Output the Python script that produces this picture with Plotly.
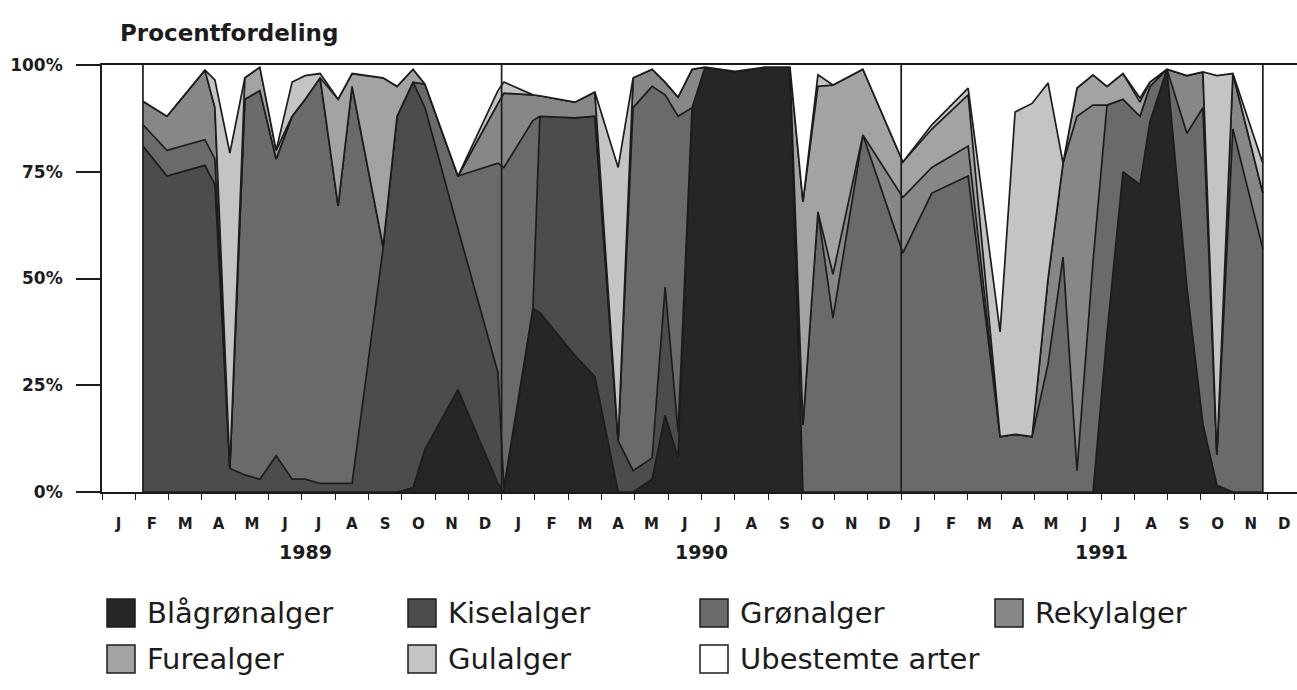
import plotly.graph_objects as go

# ---------------- data ----------------
# sample position in months since 1 Jan 1989
sample_month = [1.23, 1.95, 3.09, 3.39, 3.84, 4.29, 4.74, 5.23, 5.71, 6.10,
                6.55, 7.09, 7.51, 8.44, 8.86, 9.34, 9.70, 10.69, 11.89, 12.07,
                12.94, 13.15, 14.20, 14.80, 15.50, 15.95, 16.52, 16.91, 17.30, 17.72,
                18.11, 19.01, 19.91, 20.66, 21.05, 21.50, 21.95, 22.85, 24.05, 24.92,
                26.01, 26.97, 27.42, 27.93, 28.41, 28.86, 29.28, 29.76, 30.18, 30.66,
                31.17, 31.47, 31.98, 32.58, 33.06, 33.48, 33.96, 34.86]

blaagroenalger = [0, 0, 0, 0, 0, 0, 0, 0, 0, 0,
                  0, 0, 0, 0, 0, 1, 10, 24, 2, 0,
                  43, 42, 32, 27, 0, 0, 3, 18, 8, 90,
                  99.5, 98.5, 99.5, 99.5, 0, 0, 0, 0, 0, 0,
                  0, 0, 0, 0, 0, 0, 0, 0, 37, 75,
                  72, 86.7, 99, 48, 16, 1.6, 0, 0]
kiselalger = [81, 74, 76.5, 72, 5.5, 4, 3, 8.5, 3, 3,
              2, 2, 2, 57, 88, 95, 80, 37.6, 26, 1,
              0, 46, 55.6, 61, 12, 5, 5, 30, 6, 0,
              0, 0, 0, 0, 0, 0, 0, 0, 0, 0,
              0, 0, 0, 0, 0, 0, 0, 0, 0, 0,
              0, 0, 0, 0, 0, 0, 0, 0]
groenalger = [5, 6, 6, 6, 0, 88, 91, 69.5, 85, 89,
              95, 65, 93, 0.5, 0, 0, 5.5, 12.4, 49, 75,
              44, 0, 0, 0, 0, 85, 87, 45, 74, 0,
              0, 0, 0, 0, 15.7, 65.6, 40.7, 83.6, 56, 70,
              74, 13, 13.5, 13, 30, 55, 5, 54, 53.6, 17,
              16, 8.3, 0, 36, 74, 7.1, 85, 57]
rekylalger = [5.5, 8, 16.3, 12, 0, 0, 0, 0, 0, 0,
              0, 0, 0, 0, 0, 0, 0, 0, 14, 17.4,
              6, 4.8, 3.7, 5.7, 0, 7, 4, 3, 4.5, 9,
              0, 0, 0, 0, 0, 0, 10.3, 0, 13, 6,
              7, 0, 0, 0, 20, 22, 83, 36.6, 0, 0,
              0, 0, 0, 13.5, 8.4, 0, 13, 13]
furealger = [0, 0, 0, 0, 0, 5, 5.5, 2, 0, 0,
             0, 25, 3, 39.5, 7, 3, 0, 0, 0, 0,
             0, 0, 0, 0, 0, 0, 0, 0, 0, 0,
             0, 0, 0, 0, 52.3, 29.4, 44.3, 15.4, 8.3, 9,
             12, 0, 0, 0, 0, 0, 6.6, 7.1, 4.4, 6,
             3.3, 1, 0, 0, 0, 0, 0, 0]
gulalger = [0, 0, 0, 6.5, 73.9, 0, 0, 0, 8, 5.5,
            1, 0, 0, 0, 0, 0, 0, 0, 3, 2.6,
            0, 0, 0, 0, 64, 0, 0, 0, 0, 0,
            0, 0, 0, 0, 0, 2.7, 0, 0, 0, 1,
            1.6, 24.5, 75.5, 78, 45.8, 0, 0, 0, 0, 0,
            1, 0, 0, 0, 0, 88.8, 0, 7]
ubestemte_arter = [8.5, 12, 1.2, 3.5, 20.6, 3, 0.5, 20, 4, 2.5,
                   2, 8, 2, 3, 5, 1, 4.5, 26, 6, 4,
                   7, 7.2, 8.7, 6.3, 24, 3, 1, 4, 7.5, 1,
                   0.5, 1.5, 0.5, 0.5, 32, 2.3, 4.7, 1, 22.7, 14,
                   5.4, 62.5, 11, 9, 4.2, 23, 5.4, 2.3, 5, 2,
                   7.7, 4, 1, 2.5, 1.6, 2.5, 2, 23]

series_names = ["Blågrønalger", "Kiselalger", "Grønalger", "Rekylalger",
                "Furealger", "Gulalger", "Ubestemte arter"]
month_labels = ["J", "F", "M", "A", "M", "J", "J", "A", "S", "O", "N", "D"] * 3
year_labels = ["1989", "1990", "1991"]
year_label_pos = [6.1, 18.0, 30.0]
year_dividers = [12.0, 24.0]
y_tick_vals = [0, 25, 50, 75, 100]
y_tick_text = ["0%", "25%", "50%", "75%", "100%"]

# ---------------- style ----------------
fills = ["#262626", "#4c4c4c", "#6a6a6a", "#878787", "#a3a3a3", "#c4c4c4", "#ffffff"]
INK = "#1c1c1c"
FONT = "DejaVu Sans"

W, H = 1297, 690
ML, MR, MT, MB = 102, 0, 65, 198
PW, PH = W - ML - MR, H - MT - MB


def px(xp):
    return (xp - ML) / PW


def py(yp):
    return (H - MB - yp) / PH


series_values = [blaagroenalger, kiselalger, groenalger, rekylalger,
                 furealger, gulalger, ubestemte_arter]

fig = go.Figure()
for name, vals, col in zip(series_names, series_values, fills):
    last = name == "Ubestemte arter"
    fig.add_trace(go.Scatter(
        x=sample_month, y=vals, name=name, stackgroup="one", mode="lines",
        line=dict(color=INK, width=0 if last else 1.7, shape="linear"),
        fillcolor=col, showlegend=False, hoverinfo="x+y+name"))

shapes = []
# edges of data + year dividers
for xv in [sample_month[0], sample_month[-1]] + year_dividers:
    shapes.append(dict(type="line", xref="x", yref="y", x0=xv, x1=xv, y0=0, y1=100,
                       line=dict(color=INK, width=1.7)))

annotations = []
annotations.append(dict(text="<b>Procentfordeling</b>", xref="paper", yref="paper",
                        x=px(118), y=py(33), xanchor="left", yanchor="middle",
                        showarrow=False, font=dict(family=FONT, size=23, color=INK)))
for yl, xv in zip(year_labels, year_label_pos):
    annotations.append(dict(text=f"<b>{yl}</b>", xref="x", yref="paper", x=xv, y=py(552),
                            xanchor="center", yanchor="middle", showarrow=False,
                            font=dict(family=FONT, size=19, color=INK)))

# manual legend
legend_cols = [107, 408, 700, 995]
legend_rows = [613, 659]
sq = 28
for i, (name, col) in enumerate(zip(series_names, fills)):
    r, c = divmod(i, 4)
    x0 = legend_cols[c]
    yc = legend_rows[r]
    shapes.append(dict(type="rect", xref="paper", yref="paper",
                       x0=px(x0), x1=px(x0 + sq), y0=py(yc + sq / 2), y1=py(yc - sq / 2),
                       fillcolor=col, line=dict(color=INK, width=1.5)))
    annotations.append(dict(text=name, xref="paper", yref="paper",
                            x=px(x0 + sq + 10), y=py(yc), xanchor="left", yanchor="middle",
                            showarrow=False, font=dict(family=FONT, size=29, color=INK)))

fig.update_layout(
    width=W, height=H, margin=dict(l=ML, r=MR, t=MT, b=MB, autoexpand=False),
    paper_bgcolor="white", plot_bgcolor="white",
    shapes=shapes, annotations=annotations, hovermode="x",
    xaxis=dict(range=[0, PW / 33.3], showgrid=False, zeroline=False,
               showline=True, linecolor=INK, linewidth=1.8, mirror=True,
               tickmode="array", tickvals=[i + 0.5 for i in range(36)], ticktext=month_labels,
               ticks="", ticklabelstandoff=17,
               tickfont=dict(family=FONT, size=15, color=INK, weight="bold"),
               minor=dict(tick0=0, dtick=1, ticks="outside", ticklen=6,
                          tickcolor=INK, tickwidth=1.4, showgrid=False)),
    yaxis=dict(range=[0, 100], showgrid=False, zeroline=False,
               showline=True, linecolor=INK, linewidth=1.8,
               tickmode="array", tickvals=y_tick_vals, ticktext=y_tick_text,
               ticks="outside", ticklen=24, tickwidth=1.8, tickcolor=INK,
               ticklabelstandoff=10,
               tickfont=dict(family=FONT, size=17, color=INK, weight="bold")),
)

fig.write_html("out.html")
